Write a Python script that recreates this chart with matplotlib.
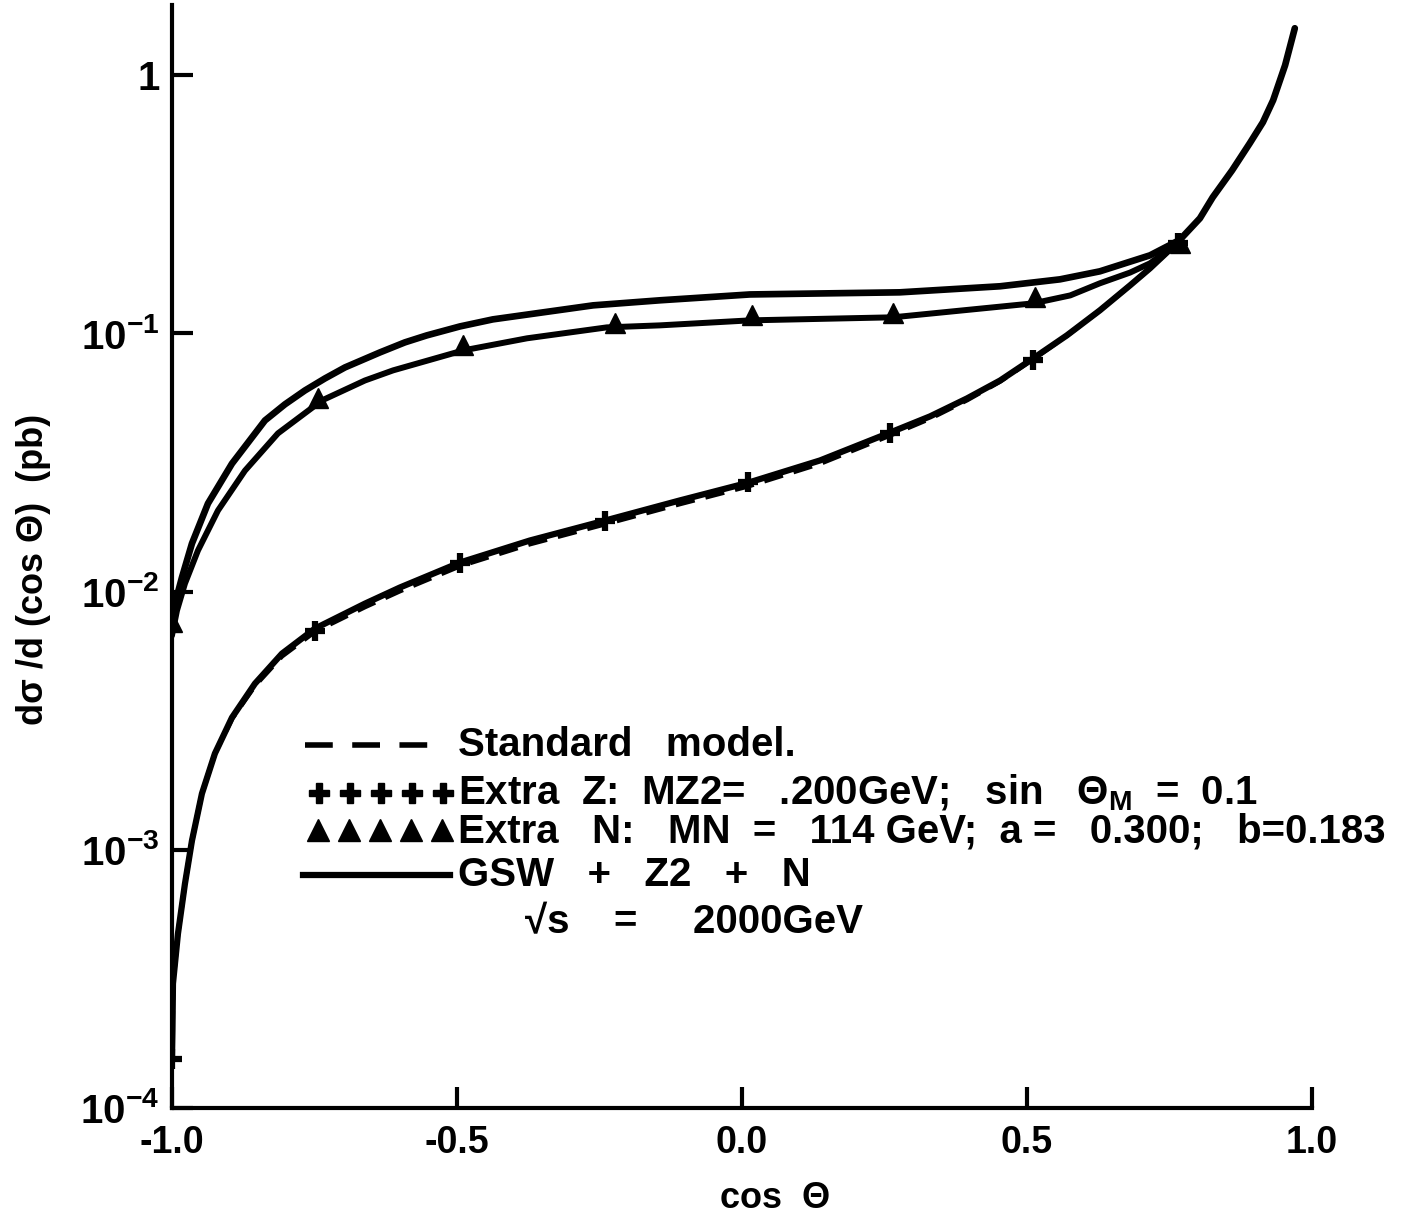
import numpy as np
import matplotlib
matplotlib.use("Agg")
import matplotlib.pyplot as plt
from matplotlib.ticker import FixedLocator, FuncFormatter, NullLocator

plt.rcParams['font.family'] = ['Liberation Sans', 'DejaVu Sans']
plt.rcParams['font.weight'] = 'bold'
plt.rcParams['mathtext.fontset'] = 'custom'
plt.rcParams['mathtext.bf'] = 'Liberation Sans:bold'
plt.rcParams['mathtext.rm'] = 'Liberation Sans:bold'
plt.rcParams['mathtext.default'] = 'bf'
plt.rcParams['lines.scale_dashes'] = False

# GSW + Z2 + N (full solid curve, top)
full_x = [-1.000, -0.9947, -0.9825, -0.9649, -0.9368, -0.8947, -0.8368, -0.8018, -0.7667,
          -0.7316, -0.6965, -0.635, -0.5912, -0.553, -0.4947, -0.437, -0.261, -0.144, 0.014,
          0.277, 0.453, 0.558, 0.628, 0.716, 0.768, 0.8035, 0.826, 0.860, 0.891, 0.914,
          0.932, 0.953, 0.970]
full_y = [0.00706, 0.00898, 0.01133, 0.01535, 0.02193, 0.0313, 0.0460, 0.0531, 0.0601,
          0.0669, 0.0738, 0.0844, 0.0923, 0.0982, 0.1064, 0.1133, 0.1284, 0.1343, 0.1415,
          0.1442, 0.1522, 0.1619, 0.1739, 0.2006, 0.2300, 0.279, 0.3366, 0.428, 0.545,
          0.657, 0.800, 1.093, 1.52]

# Extra N curve and its triangle markers
extn_x = [-1.000, -0.9912, -0.9772, -0.9544, -0.9193, -0.8719, -0.8140, -0.7368, -0.6614,
          -0.612, -0.489, -0.377, -0.237, -0.144, 0.014, 0.265, 0.511, 0.576, 0.628,
          0.681, 0.716, 0.768]
extn_y = [0.00675, 0.00844, 0.01074, 0.01442, 0.0206, 0.0294, 0.0410, 0.0550, 0.0657,
          0.0719, 0.0859, 0.0957, 0.1055, 0.1074, 0.1123, 0.1154, 0.1307, 0.1403, 0.1563,
          0.1720, 0.1868, 0.2270]
extn_mx = [-1.000, -0.744, -0.489, -0.223, 0.018, 0.265, 0.514, 0.768]
extn_my = [0.00759, 0.0560, 0.0898, 0.110, 0.1174, 0.1196, 0.138, 0.223]

# Extra Z curve and its plus markers
extz_x = [-1.000, -0.9991, -0.9982, -0.9895, -0.9772, -0.9649, -0.9474, -0.9246, -0.8947,
          -0.8544, -0.8070, -0.7491, -0.6614, -0.600, -0.495, -0.372, -0.240, -0.109,
          0.011, 0.137, 0.260, 0.330, 0.395, 0.453, 0.511, 0.570, 0.628, 0.681, 0.716,
          0.768]
extz_y = [1.52e-4, 1.99e-4, 3.03e-4, 4.72e-4, 7.38e-4, 1.084e-3, 1.65e-3, 2.36e-3, 3.25e-3,
          4.40e-3, 5.75e-3, 7.19e-3, 8.98e-3, 0.01037, 0.01295, 0.01577, 0.01884, 0.02254,
          0.0264, 0.0322, 0.0413, 0.0477, 0.0560, 0.0657, 0.0800, 0.0982, 0.1228, 0.1535,
          0.1787, 0.2290]
extz_mx = [-1.000, -0.749, -0.495, -0.240, 0.011, 0.260, 0.511, 0.765]
extz_my = [1.55e-4, 7.06e-3, 0.01295, 0.01884, 0.0265, 0.0413, 0.0786, 0.223]

# Standard model (dashed), almost on top of the Extra Z curve
sm_y = [1.52e-4, 1.99e-4, 3.03e-4, 4.72e-4, 7.38e-4, 1.084e-3, 1.65e-3, 2.36e-3, 3.22e-3,
        4.32e-3, 5.62e-3, 7.00e-3, 8.72e-3, 0.01005, 0.01255, 0.01528, 0.01826, 0.02185,
        0.0256, 0.0313, 0.0403, 0.0468, 0.0552, 0.0652, 0.0796, 0.0980, 0.1228, 0.1535,
        0.1787, 0.2290]

xticks = [-1.0, -0.5, 0.0, 0.5, 1.0]
xticklabels = ['-1.0', '-0.5', '0.0', '0.5', '1.0']
yticks = [1e-4, 1e-3, 1e-2, 1e-1, 1.0]

legend_rows = ['Standard   model.',
               'Extra  Z:  MZ2=   .200GeV;   sin   Θ$_M$  =  0.1',
               'Extra   N:   MN  =   114 GeV;  a =   0.300;   b=0.183',
               'GSW   +   Z2   +   N']
energy_note = '√s    =     2000GeV'

fig = plt.figure(figsize=(14.14, 12.19), dpi=100)
ax = fig.add_axes([0.1216, 0.0911, 0.8062, 0.9048])

ax.plot(full_x, full_y, color='black', lw=4.8, solid_capstyle='round',
        solid_joinstyle='round')
ax.plot(extn_x, extn_y, color='black', lw=4.3, solid_capstyle='round',
        solid_joinstyle='round')
ax.plot(extn_mx, extn_my, ls='none', marker='^', ms=15, color='black')
ax.plot(extz_x, extz_y, color='black', lw=4.5, solid_capstyle='round',
        solid_joinstyle='round')
ax.plot(extz_x, sm_y, color='black', lw=3.5, dashes=(14, 8))
ax.plot(extz_mx, extz_my, ls='none', marker='+', ms=15, mew=4.5, color='black')

ax.set_yscale('log')
ax.set_xlim(-1.0, 1.0)
ax.set_ylim(1e-4, 1.87)

ax.xaxis.set_major_locator(FixedLocator(xticks))
ax.set_xticklabels(xticklabels)
ax.yaxis.set_major_locator(FixedLocator(yticks))
ax.yaxis.set_minor_locator(NullLocator())


def ylab(v, pos):
    if v >= 1:
        return '1'
    return '10$^{%d}$' % int(round(np.log10(v)))


ax.yaxis.set_major_formatter(FuncFormatter(ylab))

for s in ['top', 'right']:
    ax.spines[s].set_visible(False)
for s in ['left', 'bottom']:
    ax.spines[s].set_linewidth(3)

ax.tick_params(axis='both', direction='in', length=15, width=3)
ax.tick_params(axis='y', labelsize=29, pad=9)
ax.tick_params(axis='x', labelsize=27, pad=12)

ax.set_xlabel('cos  Θ', fontsize=26, fontweight='bold')
ax.xaxis.set_label_coords(0.529, -0.066)
ax.set_ylabel('dσ /d (cos Θ)  (pb)', fontsize=26, fontweight='bold')
ax.yaxis.set_label_coords(-0.106, 0.488)


# legend drawn by hand, positions in axes fractions
def fx(px):
    return (px - 172) / 1140


def fy(py):
    return (1108 - py) / 1103


tr = ax.transAxes
ax.plot([fx(305), fx(430)], [fy(745), fy(745)], transform=tr, color='black', lw=4,
        dashes=(20, 14), clip_on=False)
ax.plot([fx(p) for p in [319, 350, 381, 412, 443]], [fy(793)] * 5, transform=tr,
        ls='none', marker='P', ms=15, color='black', clip_on=False)
ax.plot([fx(p) for p in [318, 349, 380, 411, 442]], [fy(830)] * 5, transform=tr,
        ls='none', marker='^', ms=16, color='black', clip_on=False)
ax.plot([fx(303), fx(450)], [fy(875), fy(875)], transform=tr, color='black', lw=4.5,
        clip_on=False)

row_y = [745, 793, 832, 875]
for txt, py in zip(legend_rows, row_y):
    ax.text(fx(458), fy(py), txt, transform=tr, fontsize=29, fontweight='bold',
            ha='left', va='center')
ax.text(fx(525), fy(922), energy_note, transform=tr, fontsize=29, fontweight='bold',
        ha='left', va='center')

fig.savefig('out.png', dpi=100, facecolor='white')
